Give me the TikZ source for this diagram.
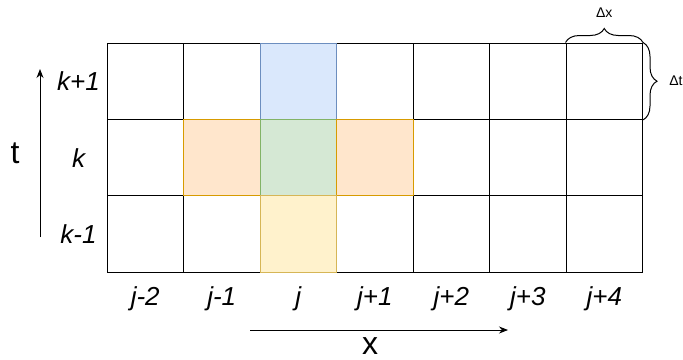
\documentclass[tikz,border=0pt]{standalone}
\usepackage{fontspec}
\setmainfont{Liberation Sans}
\usetikzlibrary{arrows.meta,positioning,decorations.pathreplacing}

\definecolor{bluefill}{HTML}{DAE8FC}
\definecolor{blueline}{HTML}{6C8EBF}
\definecolor{orangefill}{HTML}{FFE6CC}
\definecolor{orangeline}{HTML}{D79B00}
\definecolor{greenfill}{HTML}{D5E8D4}
\definecolor{greenline}{HTML}{82B366}
\definecolor{yellowfill}{HTML}{FFF2CC}
\definecolor{yellowline}{HTML}{D6B656}

\begin{document}
\begin{tikzpicture}[
  x=0.5pt, y=-0.5pt,
  >={Stealth[length=4.5pt, width=3.5pt]},
  cell/.style={draw, line width=0.5pt, minimum width=38.25pt, minimum height=38.2pt, inner sep=0pt},
  idxlab/.style={font=\fontsize{13}{15}\selectfont\itshape, inner sep=1pt},
  axislab/.style={font=\fontsize{16}{18}\selectfont, inner sep=1pt},
  steplab/.style={font=\fontsize{7}{8}\selectfont, inner sep=1pt},
  brace/.style={decorate, decoration={brace, amplitude=7pt}, line width=0.5pt}
]
\useasboundingbox (0,0) rectangle (683,359);

% grid of cells
\foreach \i in {1,...,7}
  \foreach \r in {1,2,3}
    \node[cell] (c-\i-\r) at ({107+76.5*(\i-0.5)},{43+76.4*(\r-0.5)}) {};

% stencil
\node[cell, fill=bluefill, draw=blueline] (up) at (c-3-1) {};
\node[cell, fill=orangefill, draw=orangeline] (left) at (c-2-2) {};
\node[cell, fill=greenfill, draw=greenline] (mid) at (c-3-2) {};
\node[cell, fill=orangefill, draw=orangeline] (right) at (c-4-2) {};
\node[cell, fill=yellowfill, draw=yellowline] (down) at (c-3-3) {};

% indices
\node[idxlab] (kp) at ([xshift=-14pt]c-1-1.west) {k+1};
\node[idxlab] (k) at ([xshift=-14pt]c-1-2.west) {k};
\node[idxlab] (km) at ([xshift=-14pt]c-1-3.west) {k-1};
\foreach \i/\t in {1/j-2,2/j-1,3/j,4/j+1,5/j+2,6/j+3,7/j+4}
  \node[idxlab] (j\i) at ([yshift=-13pt]c-\i-3.south) {\t};

% axes
\coordinate (t0) at (40,237);
\coordinate (t1) at (40,69);
\draw[->, line width=0.5pt] (t0) -- (t1);
\node[axislab] (tlab) at (15,153) {t};
\coordinate (x0) at (250,330);
\coordinate (x1) at (508,330);
\draw[->, line width=0.5pt] (x0) -- (x1);
\node[axislab] (xlab) at (370,346) {x};

% step sizes
\draw[brace] (c-7-1.north west) -- (c-7-1.north east);
\node[steplab] (dx) at ([yshift=15pt]c-7-1.north) {Δx};
\draw[brace] (c-7-1.north east) -- (c-7-1.south east);
\node[steplab] (dt) at ([xshift=16.5pt]c-7-1.east) {Δt};
\end{tikzpicture}
\end{document}
